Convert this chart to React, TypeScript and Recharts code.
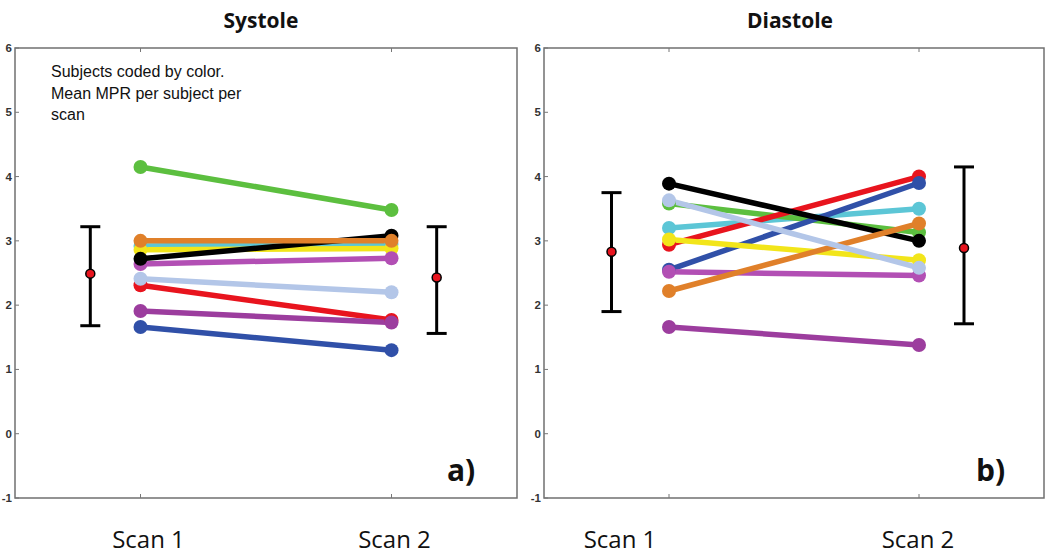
import React from 'react'
import { ComposedChart, Line, XAxis, YAxis, Scatter, ErrorBar, ReferenceArea } from 'recharts'

const scans = ['Scan 1', 'Scan 2']
const scanX = [1, 2]
const yTicks = [-1, 0, 1, 2, 3, 4, 5, 6]

// subjects, listed in drawing order (later ones sit on top)
const subjectColors = ['#5cc6d6', '#5cbf3f', '#e8141e', '#3050a8', '#f2e51a', '#b24fb4', '#000000', '#e0802a', '#9c3d9e', '#b3c6e8']
const systoleScan1 = [2.92, 4.15, 2.31, 1.66, 2.86, 2.64, 2.72, 3.0, 1.91, 2.41]
const systoleScan2 = [2.95, 3.48, 1.77, 1.3, 2.88, 2.73, 3.08, 3.0, 1.73, 2.2]
const diastoleScan1 = [3.2, 3.58, 2.94, 2.55, 3.02, 2.52, 3.89, 2.22, 1.66, 3.63]
const diastoleScan2 = [3.5, 3.13, 4.0, 3.9, 2.7, 2.46, 3.0, 3.27, 1.38, 2.58]

// group mean and spread for each scan
const systoleMean = [2.49, 2.43]
const systoleLow = [1.68, 1.56]
const systoleHigh = [3.22, 3.22]
const systoleBarX = [0.8, 2.18]
const diastoleMean = [2.83, 2.89]
const diastoleLow = [1.9, 1.71]
const diastoleHigh = [3.75, 4.15]
const diastoleBarX = [0.77, 2.18]

const PLOT_TOP = 48
const PLOT_BOTTOM = 498
const CHART_H = 555
const AXIS_H = 50

type PanelProps = {
    scan1: number[]
    scan2: number[]
    mean: number[]
    low: number[]
    high: number[]
    barX: number[]
    width: number
    plotLeft: number
    plotRight: number
    labelShift: number[]
}

const Panel = ({ scan1, scan2, mean, low, high, barX, width, plotLeft, plotRight, labelShift }: PanelProps) => {
    const subjects = subjectColors.map((color, i) => ({
        color,
        points: [{ x: scanX[0], y: scan1[i] }, { x: scanX[1], y: scan2[i] }],
    }))
    const summary = mean.map((m, i) => ({ x: barX[i], y: m, err: [m - low[i], high[i] - m] }))

    const renderXTick = (p: any) => (
        <g>
            <line x1={p.x} x2={p.x} y1={PLOT_BOTTOM} y2={PLOT_BOTTOM - 4} stroke="#777" />
            <line x1={p.x} x2={p.x} y1={PLOT_TOP} y2={PLOT_TOP + 4} stroke="#777" />
            <text x={p.x + labelShift[p.index]} y={548} textAnchor="middle"
                fontFamily="'Open Sans', sans-serif" fontSize={24} fill="#111">
                {scans[p.index]}
            </text>
        </g>
    )

    const renderYTick = (p: any) => (
        <g>
            <line x1={plotLeft} x2={plotLeft + 4} y1={p.y} y2={p.y} stroke="#777" />
            <text x={plotLeft - 3} y={p.y} dy={4} textAnchor="end"
                fontFamily="'Liberation Sans', Arial, sans-serif" fontWeight="bold" fontSize={11.5} fill="#333">
                {p.payload.value}
            </text>
        </g>
    )

    return (
        <ComposedChart width={width} height={CHART_H}
            margin={{ top: PLOT_TOP, right: width - plotRight, bottom: CHART_H - PLOT_BOTTOM - AXIS_H, left: 0 }}>
            <XAxis type="number" dataKey="x" domain={[0.5, 2.5]} ticks={scanX} height={AXIS_H}
                axisLine={false} tickLine={false} tick={renderXTick} allowDataOverflow />
            <YAxis type="number" dataKey="y" domain={[-1, 6]} ticks={yTicks} width={plotLeft} interval={0}
                axisLine={false} tickLine={false} tick={renderYTick} allowDataOverflow />
            <ReferenceArea x1={0.5} x2={2.5} y1={-1} y2={6} fill="none" fillOpacity={0} stroke="#707070" strokeWidth={1.5} />
            {subjects.map((s, i) => (
                <Line key={i} data={s.points} dataKey="y" stroke={s.color} strokeWidth={5.5}
                    dot={{ r: 7, fill: s.color, stroke: 'none' }} activeDot={false} isAnimationActive={false} />
            ))}
            <Scatter data={summary} dataKey="y" isAnimationActive={false}
                shape={(p: any) => <circle cx={p.cx} cy={p.cy} r={4.5} fill="#e8141e" stroke="#000" strokeWidth={1.5} />}>
                <ErrorBar dataKey="err" direction="y" width={10} strokeWidth={3} stroke="#000" />
            </Scatter>
        </ComposedChart>
    )
}

const App = () => {
    return (
        <div style={{ position: 'absolute', left: 0, top: 0, width: 1050, height: 555, background: '#fff' }}>
            <div style={{ position: 'absolute', left: 0, top: 0 }}>
                <Panel scan1={systoleScan1} scan2={systoleScan2} mean={systoleMean} low={systoleLow} high={systoleHigh}
                    barX={systoleBarX} width={530} plotLeft={15} plotRight={517} labelShift={[8, 3]} />
            </div>
            <div style={{ position: 'absolute', left: 520, top: 0 }}>
                <Panel scan1={diastoleScan1} scan2={diastoleScan2} mean={diastoleMean} low={diastoleLow} high={diastoleHigh}
                    barX={diastoleBarX} width={530} plotLeft={24} plotRight={524} labelShift={[-49, -1]} />
            </div>
            <svg width={1050} height={555} style={{ position: 'absolute', left: 0, top: 0, pointerEvents: 'none' }}>
                <g fontFamily="'Open Sans', sans-serif" fontWeight="bold" fill="#111">
                    <text x={261} y={28} fontSize={21} textAnchor="middle">Systole</text>
                    <text x={790} y={28} fontSize={21} textAnchor="middle">Diastole</text>
                    <text x={447} y={481} fontSize={30}>a)</text>
                    <text x={976} y={481} fontSize={30}>b)</text>
                </g>
                <g fontFamily="'Liberation Sans', Arial, sans-serif" fontSize={16} fill="#111">
                    <text x={51} y={77}>Subjects coded by color.</text>
                    <text x={51} y={99}>Mean MPR per subject per</text>
                    <text x={51} y={120}>scan</text>
                </g>
            </svg>
        </div>
    )
}

export default App
